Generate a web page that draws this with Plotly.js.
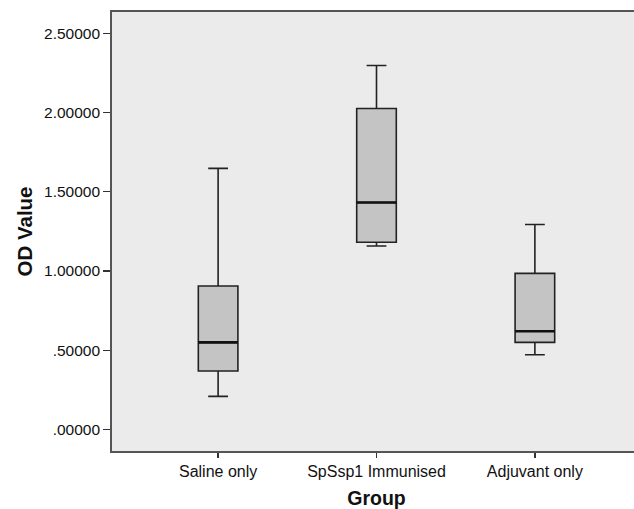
<!DOCTYPE html>
<html>
<head>
<meta charset="utf-8">
<script src="https://cdn.plot.ly/plotly-3.0.1.min.js"></script>
<style>
  html, body { margin: 0; padding: 0; overflow: hidden; background: #fff; }
  #chart { width: 641px; height: 509px; }
</style>
</head>
<body>
<div id="chart"></div>
<script>
// Data
const categories = ["Saline only", "SpSsp1 Immunised", "Adjuvant only"];
const lowerWhisker = [0.208, 1.158, 0.471];
const q1Values     = [0.368, 1.182, 0.549];
const medianValues = [0.549, 1.433, 0.619];
const q3Values     = [0.905, 2.026, 0.985];
const upperWhisker = [1.648, 2.298, 1.294];
const yTickValues = [0, 0.5, 1.0, 1.5, 2.0, 2.5];
const yTickLabels = [".00000", ".50000", "1.00000", "1.50000", "2.00000", "2.50000"];

const xIdx = categories.map((c, i) => i);
const boxWidth = 0.25;

const boxTrace = {
  type: "box",
  x: xIdx,
  q1: q1Values,
  median: medianValues,
  q3: q3Values,
  lowerfence: lowerWhisker,
  upperfence: upperWhisker,
  width: boxWidth,
  whiskerwidth: 0.5,
  fillcolor: "#c4c4c4",
  line: { color: "#222222", width: 1.6 },
  boxpoints: false,
  hoverinfo: "skip",
  showlegend: false
};

// thicker median lines (SPSS style)
const medX = [], medY = [];
xIdx.forEach((x, i) => {
  medX.push(x - boxWidth / 2, x + boxWidth / 2, null);
  medY.push(medianValues[i], medianValues[i], null);
});
const medianTrace = {
  type: "scatter",
  mode: "lines",
  x: medX,
  y: medY,
  line: { color: "#111111", width: 2.6 },
  hoverinfo: "skip",
  showlegend: false
};

const font = "Arial, 'Liberation Sans', sans-serif";
const layout = {
  width: 641,
  height: 509,
  margin: { l: 112, r: 0, t: 12, b: 58 },
  paper_bgcolor: "#ffffff",
  plot_bgcolor: "#ebebeb",
  font: { family: font, color: "#111111", size: 16 },
  showlegend: false,
  xaxis: {
    range: [-0.67, 2.67],
    tickmode: "array",
    tickvals: xIdx,
    ticktext: categories,
    ticks: "outside",
    ticklen: 5,
    tickwidth: 1.3,
    tickcolor: "#333333",
    showgrid: false,
    zeroline: false,
    showline: true,
    mirror: true,
    linecolor: "#555555",
    linewidth: 1.8,
    tickfont: { size: 16, family: font, color: "#111111" },
    title: { text: "<b>Group</b>", font: { size: 19.5, family: font, color: "#111111" }, standoff: 16 }
  },
  yaxis: {
    range: [-0.137, 2.636],
    tickmode: "array",
    tickvals: yTickValues,
    ticktext: yTickLabels,
    ticks: "outside",
    ticklen: 7,
    tickwidth: 1.3,
    tickcolor: "#333333",
    showgrid: false,
    zeroline: false,
    showline: true,
    mirror: true,
    linecolor: "#555555",
    linewidth: 1.8,
    tickfont: { size: 15.5, family: font, color: "#111111" },
    title: { text: "<b>OD Value</b>", font: { size: 20.5, family: font, color: "#111111" }, standoff: 6 }
  }
};

Plotly.newPlot("chart", [boxTrace, medianTrace], layout, { staticPlot: true, displayModeBar: false });
</script>
</body>
</html>
